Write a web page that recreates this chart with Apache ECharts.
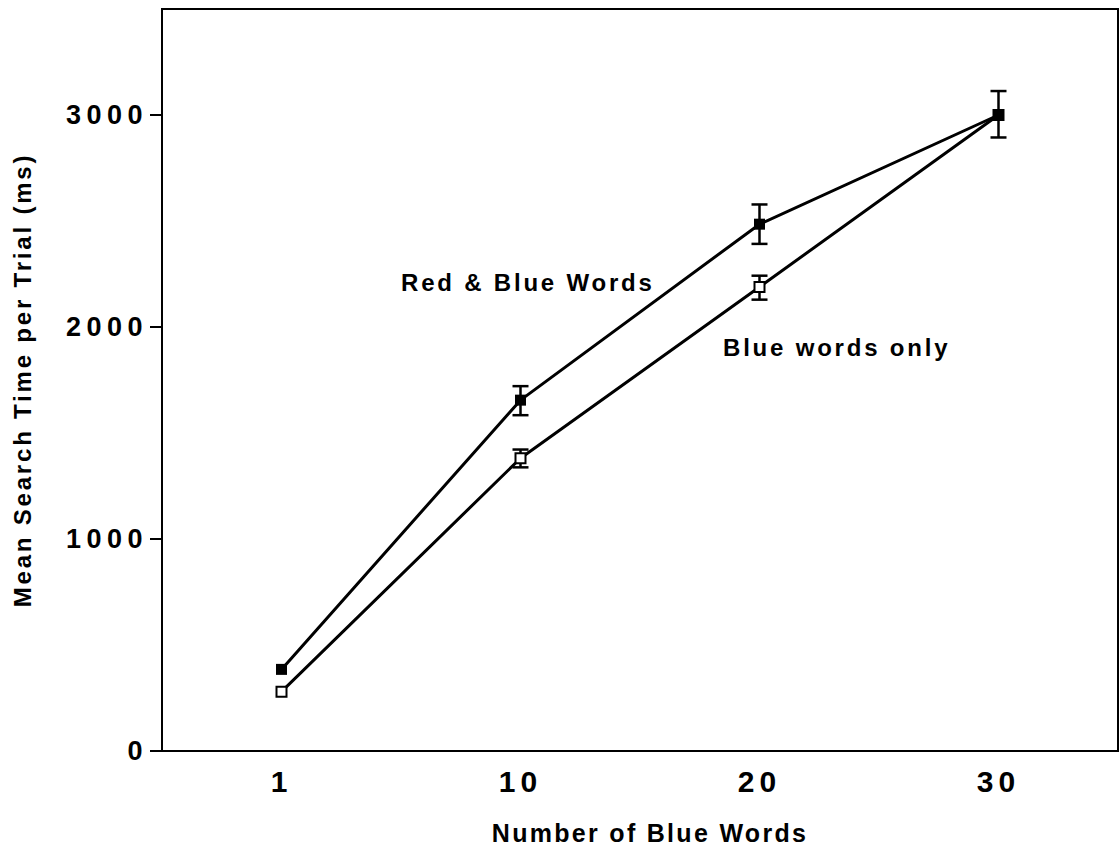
<!DOCTYPE html>
<html><head><meta charset="utf-8">
<script src="https://cdn.jsdelivr.net/npm/echarts@6/dist/echarts.min.js"></script>
<style>html,body{margin:0;padding:0;background:#fff}#c{width:1120px;height:847px}</style>
</head><body><div id="c"></div>
<script>
const categories = ['1', '10', '20', '30'];
const yTicks = [0, 1000, 2000, 3000];
const redBlueMean = [385, 1655, 2485, 3000];
const redBlueLow = [null, 1584, 2392, 2894];
const redBlueHigh = [null, 1721, 2578, 3113];
const blueOnlyMean = [280, 1381, 2189, 3000];
const blueOnlyLow = [null, 1338, 2129, null];
const blueOnlyHigh = [null, 1422, 2242, null];
const seriesNames = ['Red & Blue Words', 'Blue words only'];
const xTitle = 'Number of Blue Words';
const yTitle = 'Mean Search Time per Trial (ms)';

const FONT = '"Liberation Sans", Arial, Helvetica, sans-serif';

function errData(low, high) {
  const out = [];
  categories.forEach((c, i) => { if (low[i] != null) out.push([i, low[i], high[i]]); });
  return out;
}
function errorItem(params, api) {
  const x = api.value(0);
  const lo = api.coord([x, api.value(1)]);
  const hi = api.coord([x, api.value(2)]);
  const w = 8;
  const st = { stroke: '#000', lineWidth: 2.5 };
  return { type: 'group', children: [
    { type: 'line', shape: { x1: lo[0], y1: lo[1], x2: hi[0], y2: hi[1] }, style: st },
    { type: 'line', shape: { x1: lo[0] - w, y1: lo[1], x2: lo[0] + w, y2: lo[1] }, style: st },
    { type: 'line', shape: { x1: hi[0] - w, y1: hi[1], x2: hi[0] + w, y2: hi[1] }, style: st }
  ] };
}

const chart = echarts.init(document.getElementById('c'), null, { renderer: 'svg' });
chart.setOption({
  animation: false,
  backgroundColor: '#fff',
  grid: { left: 162, right: 2, top: 9, bottom: 96, show: true, borderColor: '#000', borderWidth: 2,
    containLabel: false, outerBoundsMode: 'none' },
  xAxis: {
    type: 'category', data: categories, boundaryGap: true,
    name: xTitle, nameLocation: 'middle', nameGap: 69,
    nameTextStyle: { fontFamily: FONT, fontWeight: 'bold', fontSize: 25, color: '#000', padding: [0, 0, 0, 20] },
    axisLine: { lineStyle: { color: '#000', width: 2 } },
    axisTick: { alignWithLabel: true, length: 10, lineStyle: { color: '#000', width: 2 } },
    axisLabel: { fontFamily: FONT, fontWeight: 'bold', fontSize: 30, color: '#000', margin: 15 },
    splitLine: { show: false }
  },
  yAxis: {
    type: 'value', min: 0, max: 3500, interval: 1000,
    name: yTitle, nameLocation: 'middle', nameRotate: 90, nameGap: 128,
    nameTextStyle: { fontFamily: FONT, fontWeight: 'bold', fontSize: 24, color: '#000' },
    axisLine: { show: true, lineStyle: { color: '#000', width: 2 } },
    axisTick: { show: true, length: 12, customValues: yTicks, lineStyle: { color: '#000', width: 2 } },
    axisLabel: { fontFamily: FONT, fontWeight: 'bold', fontSize: 27, color: '#000', margin: 14,
      customValues: yTicks, formatter: v => String(v) },
    splitLine: { show: false }
  },
  graphic: [
    { type: 'text', left: 401, top: 270, style: { text: seriesNames[0], font: 'bold 24px ' + FONT, fill: '#000' } },
    { type: 'text', left: 723, top: 335, style: { text: seriesNames[1], font: 'bold 24px ' + FONT, fill: '#000' } }
  ],
  series: [
    { type: 'custom', name: seriesNames[1] + ' SE', z: 1, renderItem: errorItem, encode: { x: 0, y: [1, 2] }, data: errData(blueOnlyLow, blueOnlyHigh) },
    { type: 'custom', name: seriesNames[0] + ' SE', z: 1, renderItem: errorItem, encode: { x: 0, y: [1, 2] }, data: errData(redBlueLow, redBlueHigh) },
    { type: 'line', name: seriesNames[1], z: 3, data: blueOnlyMean, symbol: 'rect', symbolSize: 10,
      lineStyle: { color: '#000', width: 3 }, itemStyle: { color: '#fff', borderColor: '#000', borderWidth: 2 } },
    { type: 'line', name: seriesNames[0], z: 4, data: redBlueMean, symbol: 'rect', symbolSize: 11,
      lineStyle: { color: '#000', width: 3 }, itemStyle: { color: '#000', borderColor: '#000', borderWidth: 0 } }
  ]
});

function applySpacing() {
  const map = { 27: '5.5px', 30: '5px', 24: '2.8px', 25: '2.3px' };
  document.querySelectorAll('#c text').forEach(t => {
    const fs = Math.round(parseFloat(getComputedStyle(t).fontSize));
    if (map[fs]) t.style.letterSpacing = map[fs];
  });
}
applySpacing();
chart.on('finished', applySpacing);
setTimeout(applySpacing, 30);
</script>
</body></html>
